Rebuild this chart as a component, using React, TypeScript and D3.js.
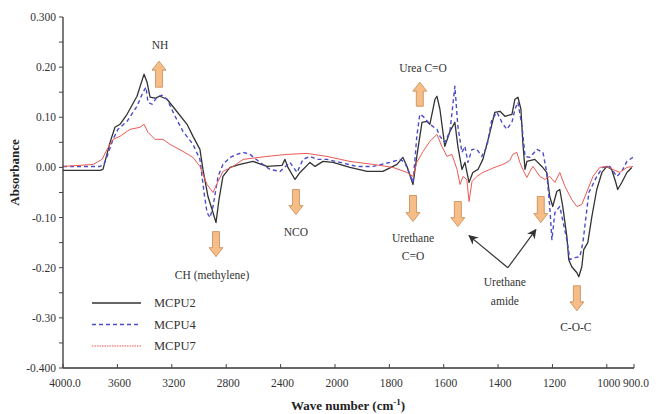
import React from "react";
import * as d3 from "d3";

// wave number tick labels (axis is split: 400 steps above 2000, 200 steps below)
const xTicks = [4000, 3600, 3200, 2800, 2400, 2000, 1800, 1600, 1400, 1200, 1000, 900];
const yTicks = [0.3, 0.25, 0.2, 0.15, 0.1, 0.05, 0, -0.05, -0.1, -0.15, -0.2, -0.25, -0.3, -0.35, -0.4];
const yLabelled = [0.3, 0.2, 0.1, 0, -0.1, -0.2, -0.3, -0.4];
const seriesNames = ["MCPU2", "MCPU4", "MCPU7"];

// [wave number, absorbance]
const mcpu2: [number, number][] = [
  [4000, -0.006], [3875, -0.006], [3728, -0.006], [3706, -0.004], [3654, 0.05], [3618, 0.08],
  [3581, 0.086], [3529, 0.106], [3456, 0.142], [3404, 0.186], [3382, 0.17], [3360, 0.14],
  [3324, 0.138], [3287, 0.142], [3235, 0.136], [3176, 0.116], [3088, 0.086], [3044, 0.062],
  [2993, 0.036], [2971, -0.004], [2934, -0.058], [2897, -0.09], [2875, -0.11], [2853, -0.064],
  [2824, -0.018], [2772, 0], [2699, 0.006], [2603, 0.012], [2500, 0.002], [2390, 0.004],
  [2368, 0.016], [2346, 0], [2294, -0.024], [2257, -0.01], [2184, 0.01], [2147, 0.002],
  [2088, 0.012], [2015, 0.01], [1945, 0], [1882, -0.008], [1824, -0.008], [1772, 0.006],
  [1750, 0.02], [1735, 0.002], [1713, -0.034], [1699, 0.022], [1680, 0.09], [1662, 0.092],
  [1651, 0.086], [1632, 0.136], [1625, 0.142], [1614, 0.116], [1596, 0.042], [1577, 0.072],
  [1559, 0.09], [1548, 0.042], [1533, -0.004], [1522, 0.01], [1507, -0.03], [1493, -0.01],
  [1474, -0.004], [1456, 0.016], [1430, 0.07], [1412, 0.11], [1393, 0.112], [1375, 0.102],
  [1349, 0.106], [1338, 0.136], [1327, 0.14], [1316, 0.116], [1309, 0.05], [1301, -0.004],
  [1294, 0.012], [1265, 0.016], [1239, 0.002], [1221, -0.01], [1210, -0.058], [1199, -0.078],
  [1184, -0.048], [1173, -0.044], [1162, -0.078], [1147, -0.138], [1140, -0.184], [1129, -0.198],
  [1110, -0.21], [1103, -0.218], [1092, -0.198], [1085, -0.164], [1070, -0.15], [1055, -0.098],
  [1037, -0.044], [1018, -0.01], [1000, 0.002], [982, -0.004], [967, -0.03], [960, -0.044],
  [945, -0.03], [926, -0.01], [908, 0],
];

const mcpu4: [number, number][] = [
  [4000, 0.002], [3728, 0.002], [3699, 0.006], [3676, 0.022], [3632, 0.056], [3596, 0.076],
  [3529, 0.092], [3456, 0.122], [3412, 0.15], [3390, 0.16], [3375, 0.13], [3346, 0.126],
  [3309, 0.14], [3272, 0.144], [3235, 0.136], [3176, 0.102], [3118, 0.072], [3044, 0.046],
  [2993, 0.016], [2963, -0.05], [2941, -0.09], [2919, -0.1], [2897, -0.078], [2860, -0.018],
  [2824, 0.006], [2772, 0.02], [2721, 0.026], [2676, 0.03], [2625, 0.026], [2551, 0.01],
  [2478, -0.004], [2404, -0.008], [2331, 0.01], [2279, -0.01], [2235, 0.016], [2184, 0.022],
  [2132, 0.016], [2059, 0.016], [1982, 0.01], [1919, 0.002], [1860, 0.002], [1798, 0.01],
  [1761, 0.016], [1743, 0.01], [1713, -0.03], [1699, 0.062], [1688, 0.106], [1676, 0.102],
  [1651, 0.086], [1625, 0.076], [1614, 0.062], [1596, 0.05], [1577, 0.072], [1559, 0.162],
  [1548, 0.082], [1533, 0.03], [1522, 0.042], [1511, 0.01], [1496, 0.036], [1478, 0.036],
  [1460, 0.022], [1441, 0.042], [1423, 0.096], [1404, 0.11], [1386, 0.09], [1368, 0.076],
  [1349, 0.09], [1338, 0.116], [1327, 0.13], [1312, 0.082], [1301, 0.022], [1283, 0.02],
  [1257, 0.036], [1235, 0.03], [1221, -0.01], [1210, -0.078], [1202, -0.144], [1191, -0.09],
  [1173, -0.078], [1147, -0.144], [1136, -0.184], [1118, -0.18], [1099, -0.178], [1088, -0.15],
  [1077, -0.1], [1066, -0.05], [1055, -0.038], [1037, -0.018], [1015, 0], [989, 0.002],
  [963, -0.018], [945, -0.008], [926, 0.012], [904, 0.02],
];

const mcpu7: [number, number][] = [
  [4000, 0.002], [3779, 0.006], [3713, 0.016], [3676, 0.036], [3632, 0.056], [3581, 0.062],
  [3507, 0.076], [3434, 0.08], [3404, 0.086], [3375, 0.07], [3324, 0.056], [3265, 0.056],
  [3213, 0.046], [3118, 0.032], [3044, 0.02], [2993, 0.002], [2941, -0.034], [2897, -0.05],
  [2860, -0.028], [2824, -0.008], [2750, 0.002], [2676, 0.016], [2500, 0.022], [2353, 0.026],
  [2206, 0.028], [2059, 0.022], [1945, 0.012], [1860, 0.006], [1787, 0], [1735, -0.01],
  [1713, -0.018], [1699, 0.01], [1676, 0.032], [1651, 0.052], [1625, 0.066], [1607, 0.042],
  [1588, 0.022], [1570, 0.026], [1551, -0.004], [1540, -0.034], [1529, -0.018], [1515, -0.024],
  [1507, -0.068], [1496, -0.028], [1478, -0.018], [1456, -0.01], [1430, -0.004], [1404, 0.002],
  [1382, 0.006], [1357, 0.014], [1346, 0.026], [1331, 0.03], [1320, 0.01], [1309, -0.004],
  [1294, -0.02], [1283, -0.008], [1272, 0.002], [1246, -0.018], [1228, -0.024], [1210, -0.018],
  [1191, -0.03], [1173, -0.01], [1154, -0.038], [1129, -0.064], [1110, -0.078], [1092, -0.074],
  [1070, -0.044], [1051, -0.018], [1026, 0], [1000, 0.002], [978, -0.004], [952, -0.01],
  [926, 0], [904, 0.002],
];

const W = 664;
const H = 414;
const serif = "'Liberation Serif', 'Times New Roman', serif";

function blockArrow(cx: number, yTail: number, yTip: number) {
  const dir = yTip > yTail ? 1 : -1;
  const sh = 3.5;
  const hh = 7;
  const hl = 9 * dir;
  const yNeck = yTip - hl;
  return `M${cx - sh},${yTail} L${cx + sh},${yTail} L${cx + sh},${yNeck} L${cx + hh},${yNeck} L${cx},${yTip} L${cx - hh},${yNeck} L${cx - sh},${yNeck} Z`;
}

export default function App() {
  const x = d3.scaleLinear().domain([4000, 2000, 900]).range([63, 335, 634]);
  const y = d3.scaleLinear().domain([-0.4, 0.3]).range([368, 17]);

  const line = d3
    .line<[number, number]>()
    .x((d) => x(d[0]))
    .y((d) => y(d[1]));

  const fmtX = (v: number) => (v === 4000 || v === 900 ? v.toFixed(1) : String(v));
  const fmtY = (v: number) => (v === 0.3 || v === -0.4 ? v.toFixed(3) : v.toFixed(2));

  // annotation arrows, in data units: [wave number, tail, tip]
  const orangeArrows: [number, number, number][] = [
    [3294, 0.16, 0.212],
    [2875, -0.128, -0.178],
    [2287, -0.044, -0.094],
    [1688, 0.122, 0.17],
    [1713, -0.056, -0.108],
    [1548, -0.068, -0.118],
    [1243, -0.058, -0.11],
    [1110, -0.236, -0.286],
  ];
  const labels: [number, number, string][] = [
    [3287, 0.236, "NH"],
    [2904, -0.222, "CH (methylene)"],
    [2287, -0.136, "NCO"],
    [1676, 0.19, "Urea C=O"],
    [1713, -0.148, "Urethane"],
    [1713, -0.184, "C=O"],
    [1375, -0.236, "Urethane"],
    [1375, -0.274, "amide"],
    [1114, -0.326, "C-O-C"],
  ];
  const apex: [number, number] = [1364, -0.2];
  const pointerTips: [number, number][] = [
    [1507, -0.136],
    [1261, -0.124],
  ];

  const styles = [
    { stroke: "#333333", width: 1.3, dash: undefined },
    { stroke: "#4b4bc8", width: 1.4, dash: "4 3" },
    { stroke: "#ec5a55", width: 1, dash: undefined },
  ];
  const series = [mcpu2, mcpu4, mcpu7];

  return (
    <div style={{ position: "absolute", left: 0, top: 0 }}>
      <svg width={W} height={H} style={{ display: "block", background: "#fff" }}>
        <defs>
          <marker id="ah" viewBox="0 0 10 10" refX="9" refY="5" markerWidth="8" markerHeight="8" orient="auto-start-reverse">
            <path d="M0,0 L10,5 L0,10 L3,5 Z" fill="#333" />
          </marker>
        </defs>

        {/* series */}
        {series.map((s, i) => (
          <path
            key={seriesNames[i]}
            d={line(s) ?? ""}
            fill="none"
            stroke={styles[i].stroke}
            strokeWidth={styles[i].width}
            strokeDasharray={styles[i].dash}
            strokeLinejoin="round"
          />
        ))}

        {/* y axis */}
        <line x1={63} x2={63} y1={y(0.3)} y2={y(-0.4)} stroke="#333" strokeWidth={1.3} />
        {yTicks.map((t) => (
          <line key={t} x1={59} x2={63} y1={y(t)} y2={y(t)} stroke="#444" strokeWidth={1} />
        ))}
        {yLabelled.map((t) => (
          <text key={t} x={56} y={y(t) + 4} textAnchor="end" fontFamily={serif} fontSize={11.5} fill="#333">
            {fmtY(t)}
          </text>
        ))}

        {/* x axis */}
        <line x1={x(4000)} x2={x(900)} y1={368} y2={368} stroke="#333" strokeWidth={1.3} />
        {xTicks.map((t) => (
          <g key={t}>
            <line x1={x(t)} x2={x(t)} y1={364} y2={368} stroke="#444" strokeWidth={1} />
            <text x={x(t) + 2} y={387} textAnchor="middle" fontFamily={serif} fontSize={11.5} fill="#333">
              {fmtX(t)}
            </text>
          </g>
        ))}

        {/* axis titles */}
        <text x={348} y={410} textAnchor="middle" fontFamily={serif} fontSize={13} fontWeight="bold" fill="#222">
          Wave number (cm
          <tspan dy={-5} fontSize={9}>-1</tspan>
          <tspan dy={5}>)</tspan>
        </text>
        <text
          transform={`translate(19,${y(-0.01)}) rotate(-90)`}
          textAnchor="middle"
          fontFamily={serif}
          fontSize={13}
          fontWeight="bold"
          fill="#222"
        >
          Absorbance
        </text>

        {/* legend */}
        {seriesNames.map((n, i) => (
          <g key={n} transform={`translate(92,${303 + i * 21.5})`}>
            <line x1={0} x2={49} y1={0} y2={0} stroke={styles[i].stroke} strokeWidth={styles[i].width + 0.2} strokeDasharray={i === 2 ? "1.5 1" : styles[i].dash} />
            <text x={62} y={4} fontFamily={serif} fontSize={12.5} fill="#333">
              {n}
            </text>
          </g>
        ))}

        {/* annotations */}
        {orangeArrows.map(([wn, a, b], i) => (
          <path key={i} d={blockArrow(x(wn), y(a), y(b))} fill="#f6bd86" stroke="#c58a55" strokeWidth={0.8} />
        ))}
        {labels.map(([wn, v, t], i) => (
          <text key={i} x={x(wn)} y={y(v)} textAnchor="middle" fontFamily={serif} fontSize={11.5} fill="#333">
            {t}
          </text>
        ))}
        {pointerTips.map(([wn, v], i) => (
          <line
            key={i}
            x1={x(apex[0])}
            y1={y(apex[1])}
            x2={x(wn)}
            y2={y(v)}
            stroke="#333"
            strokeWidth={1.2}
            markerEnd="url(#ah)"
          />
        ))}
      </svg>
    </div>
  );
}
